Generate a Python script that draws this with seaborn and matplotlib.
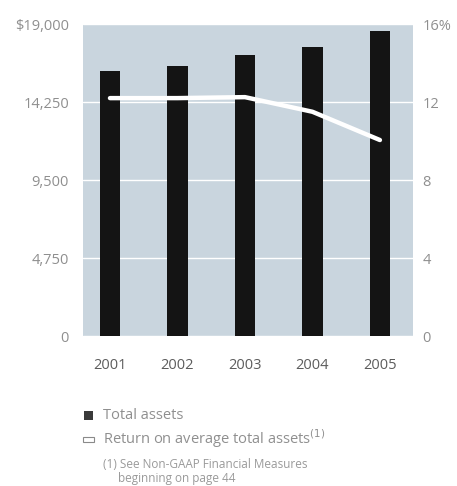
import matplotlib
matplotlib.use("Agg")
import matplotlib.pyplot as plt
from matplotlib.patches import Rectangle
import seaborn as sns
import pandas as pd

# Five-year figures
years = ["2001", "2002", "2003", "2004", "2005"]
total_assets = [16140, 16440, 17110, 17600, 18570]      # $ millions
roa = [12.2, 12.2, 12.25, 11.5, 10.05]                  # percent

asset_ticks = [0, 4750, 9500, 14250, 19000]
asset_labels = ["0", "4,750", "9,500", "14,250", "$19,000"]
pct_ticks = [0, 4, 8, 12, 16]
pct_labels = ["0", "4", "8", "12", "16%"]

df = pd.DataFrame({"year": years, "assets": total_assets, "roa": roa})

sns.set_theme(style="white")
plt.rcParams["font.family"] = ["Open Sans", "DejaVu Sans"]

BG = "#c9d5de"
BAR = "#141414"
TICK = "#8f8f8f"
XTICK = "#5c5c5c"

fig = plt.figure(figsize=(4.57, 4.86), dpi=100)
ax = fig.add_axes([0.1816, 0.3086, 0.7221, 0.642])
ax.set_facecolor(BG)

sns.barplot(data=df, x="year", y="assets", color=BAR, width=0.3,
            saturation=1, linewidth=0, ax=ax, zorder=3)
ax.set_xlim(-0.4, 4.49)
ax.set_ylim(0, 19000)
ax.set_yticks(asset_ticks)
ax.set_yticklabels(asset_labels)
ax.yaxis.grid(True, color="white", linewidth=1.0, zorder=1)
ax.set_axisbelow(True)
ax.set_xlabel("")
ax.set_ylabel("")
for s in ax.spines.values():
    s.set_visible(False)
ax.tick_params(axis="y", length=0, pad=10, labelsize=10.5, labelcolor=TICK)
ax.tick_params(axis="x", length=0, pad=16, labelsize=10.5, labelcolor=XTICK)

ax2 = ax.twinx()
sns.lineplot(x=list(range(len(years))), y=roa, color="white", linewidth=3.2,
             solid_capstyle="round", solid_joinstyle="round", ax=ax2, zorder=5)
ax2.set_ylim(0, 16)
ax2.set_yticks(pct_ticks)
ax2.set_yticklabels(pct_labels)
ax2.set_ylabel("")
for s in ax2.spines.values():
    s.set_visible(False)
ax2.tick_params(axis="y", length=0, pad=7, labelsize=10.5, labelcolor=TICK)
ax2.grid(False)

# Legend block beneath the chart
fig.patches.append(Rectangle((84 / 457, 1 - 420 / 486), 9 / 457, 9 / 486,
                             transform=fig.transFigure, facecolor="#3a3a3a",
                             edgecolor="none"))
fig.text(103 / 457, 1 - 415 / 486, "Total assets", fontsize=10.5,
         color=TICK, va="center", ha="left")
fig.patches.append(Rectangle((83 / 457, 1 - 442 / 486), 11 / 457, 5 / 486,
                             transform=fig.transFigure, facecolor="white",
                             edgecolor="#8a8a8a", linewidth=0.8))
fig.text(103 / 457, 1 - 439 / 486, r"Return on average total assets$^{(1)}$",
         fontsize=10.5, color=TICK, va="center", ha="left")
fig.text(103 / 457, 1 - 464 / 486, "(1) See Non-GAAP Financial Measures",
         fontsize=8.5, color="#9a9a9a", va="center", ha="left")
fig.text(118 / 457, 1 - 478 / 486, "beginning on page 44",
         fontsize=8.5, color="#9a9a9a", va="center", ha="left")

fig.savefig("out.png", dpi=100, facecolor="white")
